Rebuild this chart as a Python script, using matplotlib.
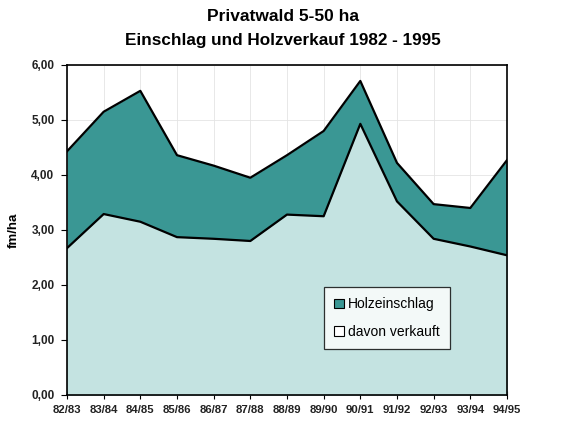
import numpy as np
import matplotlib
matplotlib.use("Agg")
from matplotlib import pyplot as plt
from matplotlib.patches import Patch

jahre = ["82/83", "83/84", "84/85", "85/86", "86/87", "87/88", "88/89",
         "89/90", "90/91", "91/92", "92/93", "93/94", "94/95"]
einschlag = [4.43, 5.15, 5.53, 4.36, 4.17, 3.95, 4.36, 4.80, 5.71, 4.22, 3.47, 3.40, 4.27]
verkauft = [2.67, 3.29, 3.15, 2.87, 2.84, 2.80, 3.28, 3.25, 4.93, 3.52, 2.84, 2.70, 2.54]
yticks = [0, 1, 2, 3, 4, 5, 6]

dunkel = "#3a9794"
hell = "#c4e3e1"

plt.rcParams['font.family'] = ['Liberation Sans', 'DejaVu Sans']

fig = plt.figure(figsize=(5.63, 4.22), dpi=100)
ax = fig.add_axes([0.119, 0.064, 0.7815, 0.782])

x = np.arange(len(jahre))
ax.fill_between(x, 0, einschlag, color=dunkel, lw=0, zorder=2)
ax.fill_between(x, 0, verkauft, color=hell, lw=0, zorder=3)
ax.plot(x, einschlag, color="black", lw=1.6, zorder=4)
ax.plot(x, verkauft, color="black", lw=1.6, zorder=4)

ax.set_xlim(0, len(jahre) - 1)
ax.set_ylim(0, 6)
ax.set_xticks(x)
ax.set_xticklabels(jahre, fontsize=8.2, fontweight="bold", color="#222222")
ax.set_yticks(yticks)
ax.set_yticklabels([("%.2f" % v).replace(".", ",") for v in yticks], fontsize=8.5,
                   fontweight="bold", color="#222222")
ax.tick_params(axis="x", direction="inout", length=6, width=0.8, pad=4)
ax.tick_params(axis="y", direction="out", length=4, width=0.8, pad=5)
ax.grid(True, color="#e4e4e4", lw=0.6, zorder=1)
ax.set_axisbelow(True)
for s in ax.spines.values():
    s.set_linewidth(1.2)
    s.set_zorder(5)

ax.set_ylabel("fm/ha", fontsize=9.5, fontweight="bold", labelpad=8)

fig.text(0.503, 0.962, "Privatwald 5-50 ha", ha="center", va="center", fontsize=12.5, fontweight="bold")
fig.text(0.503, 0.904, "Einschlag und Holzverkauf 1982 - 1995", ha="center", va="center", fontsize=12.3, fontweight="bold")

handles = [Patch(facecolor=dunkel, edgecolor="black", lw=0.8),
           Patch(facecolor="white", edgecolor="black", lw=0.8)]
leg = ax.legend(handles, ["Holzeinschlag", "davon verkauft"], loc="upper left",
                bbox_to_anchor=(0.584, 0.327), fontsize=10, frameon=True, fancybox=False,
                edgecolor="black", handlelength=0.7, handleheight=0.7, handletextpad=0.3,
                labelspacing=0.95, borderpad=0.75, borderaxespad=0)
leg.get_frame().set_linewidth(0.9)
leg.set_zorder(6)

fig.savefig("out.png", dpi=100)
